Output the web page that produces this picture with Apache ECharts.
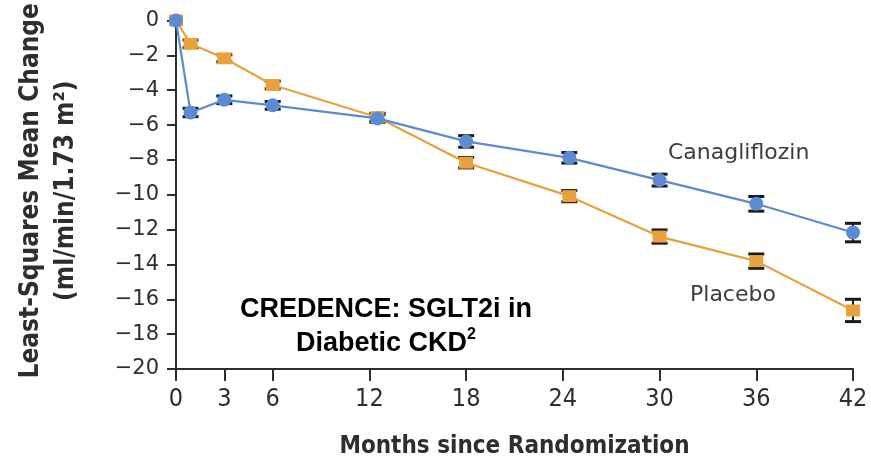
<!DOCTYPE html>
<html>
<head>
<meta charset="utf-8">
<script src="https://cdn.jsdelivr.net/npm/echarts@6/dist/echarts.min.js"></script>
<style>
html,body{margin:0;padding:0;background:#fff;}
#chart{width:871px;height:464px;}
</style>
</head>
<body>
<div id="chart"></div>
<script>
// ---- data ----
const months = [0, 0.9, 3, 6, 12.5, 18, 24.4, 30, 36, 42];
const canaMean = [0, -5.28, -4.55, -4.87, -5.62, -6.94, -7.88, -9.16, -10.52, -12.17];
const canaErr  = [0, 0.24, 0.22, 0.22, 0.22, 0.33, 0.30, 0.34, 0.42, 0.53];
const placMean = [0, -1.34, -2.17, -3.70, -5.55, -8.16, -10.08, -12.40, -13.81, -16.64];
const placErr  = [0, 0.22, 0.20, 0.22, 0.22, 0.30, 0.32, 0.38, 0.41, 0.64];
const xTicks = [0, 3, 6, 12, 18, 24, 30, 36, 42];
const seriesNames = ['Placebo', 'Canagliflozin'];

const BLUE = '#5b8cd3';
const ORANGE = '#e9a23b';
const INK = '#2e2e2e';

function pairs(xs, ys) { return xs.map((x, i) => [x, ys[i]]); }
function errData(xs, ys, es) {
  return xs.map((x, i) => es[i] > 0 ? [x, ys[i] - es[i], ys[i] + es[i]] : null).filter(Boolean);
}
function errRender(params, api) {
  const x = api.value(0);
  const lo = api.coord([x, api.value(1)]);
  const hi = api.coord([x, api.value(2)]);
  const hw = 8;
  const st = { stroke: '#1a1a1a', lineWidth: 2 };
  const cap = { stroke: '#1a1a1a', lineWidth: 3 };
  return {
    type: 'group',
    children: [
      { type: 'line', shape: { x1: lo[0], y1: lo[1], x2: hi[0], y2: hi[1] }, style: st },
      { type: 'line', shape: { x1: lo[0] - hw, y1: lo[1], x2: lo[0] + hw, y2: lo[1] }, style: cap },
      { type: 'line', shape: { x1: hi[0] - hw, y1: hi[1], x2: hi[0] + hw, y2: hi[1] }, style: cap }
    ]
  };
}

const chart = echarts.init(document.getElementById('chart'), null, { renderer: 'canvas' });
chart.setOption({
  animation: false,
  backgroundColor: '#ffffff',
  grid: { left: 176, right: 18, top: 20.5, bottom: 90, containLabel: false },
  xAxis: {
    type: 'value', min: 0, max: 42, interval: 3,
    name: 'Months since Randomization', nameLocation: 'middle', nameGap: 66,
    nameTextStyle: { fontFamily: 'DejaVu Sans Condensed', fontWeight: 'bold', fontSize: 24, color: INK },
    axisLine: { onZero: false, lineStyle: { color: INK, width: 2 } },
    axisTick: { customValues: xTicks, length: 12, lineStyle: { color: INK, width: 2 } },
    axisLabel: { customValues: xTicks, margin: 18, fontFamily: 'DejaVu Sans Condensed', fontSize: 25, color: INK },
    splitLine: { show: false }
  },
  yAxis: {
    type: 'value', min: -20, max: 0, interval: 2,
    name: 'Least-Squares Mean Change\n(ml/min/1.73 m\u00B2)', nameLocation: 'middle', nameRotate: 90, nameGap: 92,
    nameTextStyle: { fontFamily: 'DejaVu Sans Condensed', fontWeight: 'bold', fontSize: 26, color: INK, lineHeight: 35, padding: [0, 0, 0, 8] },
    axisLine: { onZero: false, lineStyle: { color: INK, width: 2 } },
    axisTick: { length: 9, lineStyle: { color: INK, width: 2 } },
    axisLabel: {
      margin: 17, fontFamily: 'DejaVu Sans', fontSize: 21, color: INK,
      formatter: v => v < 0 ? '\u2212' + Math.abs(v) : String(v)
    },
    splitLine: { show: false }
  },
  series: [
    { type: 'custom', name: 'Placebo SE', renderItem: errRender, data: errData(months, placMean, placErr), z: 1, silent: true },
    { type: 'custom', name: 'Canagliflozin SE', renderItem: errRender, data: errData(months, canaMean, canaErr), z: 1, silent: true },
    {
      type: 'line', name: seriesNames[0], data: pairs(months, placMean), z: 3,
      symbol: 'rect', symbolSize: [14, 12], showAllSymbol: true,
      lineStyle: { color: ORANGE, width: 2.2 }, itemStyle: { color: ORANGE }
    },
    {
      type: 'line', name: seriesNames[1], data: pairs(months, canaMean), z: 4,
      symbol: 'circle', symbolSize: 14, showAllSymbol: true,
      lineStyle: { color: BLUE, width: 2.2 }, itemStyle: { color: BLUE }
    }
  ],
  graphic: [
    { type: 'text', left: 668, top: 142, style: { text: seriesNames[1], fontFamily: 'DejaVu Sans', fontSize: 22, fill: '#3c3c3c' } },
    { type: 'text', left: 690, top: 284, style: { text: seriesNames[0], fontFamily: 'DejaVu Sans', fontSize: 22, fill: '#3c3c3c' } },
    {
      type: 'text', x: 386, y: 293,
      style: {
        text: '{a|CREDENCE: SGLT2i in}\n{a|Diabetic CKD}{s|2}',
        align: 'center', verticalAlign: 'top',
        rich: {
          a: { fontFamily: 'Liberation Sans', fontWeight: 'bold', fontSize: 27, fill: '#000', lineHeight: 34 },
          s: { fontFamily: 'Liberation Sans', fontWeight: 'bold', fontSize: 16, fill: '#000', verticalAlign: 'top', lineHeight: 34, padding: [0, 0, 12, 0] }
        }
      }
    }
  ]
});
</script>
</body>
</html>
